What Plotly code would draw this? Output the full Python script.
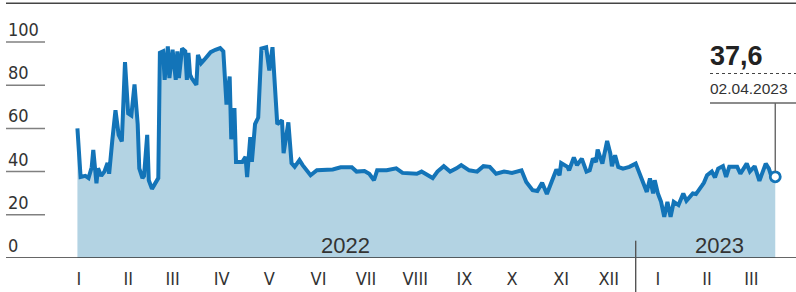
import datetime as dt
import plotly.graph_objects as go

# ---------------- data ----------------
base_date = "2022-01-01"
day_offsets = [
    13, 15, 18, 20, 22, 23, 25, 26, 28, 30, 32, 33, 35, 37, 39, 41, 43, 45, 47, 49,
    51, 52, 54, 55, 57, 58, 60, 62, 64, 65, 67, 68, 70, 71, 73, 75, 76, 77, 79, 81,
    82, 83, 84, 85, 88, 89, 91, 93, 97, 100, 103, 105, 107, 109, 110, 112, 113, 117, 119, 120,
    122, 123, 125, 127, 129, 132, 134, 136, 139, 142, 143, 146, 148, 150, 153, 155, 160, 164, 174, 179,
    186, 189, 194, 197, 200, 202, 208, 214, 218, 227, 230, 237, 240, 244, 248, 252, 255, 260, 265, 269,
    273, 277, 282, 287, 293, 296, 300, 303, 306, 309, 312, 315, 317, 318, 322, 323, 326, 328, 331, 334,
    336, 338, 340, 341, 344, 346, 347, 349, 350, 352, 354, 357, 361, 365, 368, 370, 372, 374, 376, 377,
    379, 381, 383, 385, 387, 389, 392, 395, 397, 401, 403, 407, 408, 410, 413, 415, 417, 420, 422, 424,
    429, 431, 435, 437, 440, 443, 447, 449, 451, 453,
]
values = [
    60, 37.5, 38, 37, 42, 50, 34.6, 41.5, 38, 40, 44, 39, 54.5, 68.4, 57, 54, 90.7, 67, 66, 80.4,
    62, 41.5, 37, 38, 57, 36, 32, 34.6, 37, 95, 95.7, 82.5, 98, 83.3, 96.4, 82.5, 95.7, 83.3, 97, 95.7,
    82.5, 95, 84.9, 83.3, 80.2, 94, 90.2, 91.8, 95.3, 96.4, 97.2, 95.7, 71, 84, 55, 69.4, 44.5, 44.5, 46.8, 37.5,
    56, 44.5, 62, 65, 97, 97.6, 86.8, 97.6, 62, 63.7, 48.5, 62.8, 43.9, 42.2, 45.3, 43, 38.3, 40.6, 41, 42,
    42, 40, 40.3, 39, 36, 40.6, 40.6, 41.5, 39.4, 39, 40, 37, 40, 42.5, 40, 41.5, 43, 40.6, 40, 42.5,
    42.2, 39, 40, 39.4, 40.6, 35.2, 31.4, 31, 34.8, 29.6, 35.2, 41, 38.3, 44, 42.2, 40.6, 46.5, 43, 46, 40,
    40.6, 46, 44.5, 50.2, 43.7, 49.9, 54.2, 48.4, 42.5, 47.6, 42.2, 41.4, 42.2, 43.7, 38.3, 35, 30.6, 36.8, 29.9, 36,
    29.9, 26, 19, 26, 19, 26, 24.5, 29.9, 26.5, 29.9, 29.6, 33.7, 34.8, 38.3, 40, 37.3, 41.4, 42.5, 37.5, 42.2,
    42.2, 39, 43.7, 40, 42.5, 35.7, 43.7, 41.4, 36.8, 37.6,
]
month_ticks = ["2022-01-15", "2022-02-15", "2022-03-15", "2022-04-15", "2022-05-15",
               "2022-06-15", "2022-07-15", "2022-08-15", "2022-09-15", "2022-10-15",
               "2022-11-15", "2022-12-15", "2023-01-15", "2023-02-15", "2023-03-15"]
month_labels = ["I", "II", "III", "IV", "V", "VI", "VII", "VIII", "IX", "X", "XI", "XII",
                "I", "II", "III"]
y_ticks = [0, 20, 40, 60, 80, 100]
years = ["2022", "2023"]
year_label_dates = ["2022-07-02", "2023-02-23"]
year_break = "2023-01-01"
last_value_text = "37,6"
last_date_text = "02.04.2023"

# ---------------- layout constants ----------------
W, H = 796, 292
MB = 34                     # bottom margin -> baseline at pixel 258
PH = H - MB                 # plot height
PX_PER_DAY = 1.586
DAY0_PX = 56.8              # pixel of base_date
PX_PER_UNIT = 2.16

LINE_C = "#1374b8"
FILL_C = "#b3d3e3"
TXT_C = "#333333"
NARROW = "Liberation Sans Narrow, DejaVu Sans Condensed, Arial Narrow, sans-serif"
REG = "Liberation Sans, Arial, sans-serif"

b = dt.datetime.fromisoformat(base_date)
dates = [b + dt.timedelta(days=d) for d in day_offsets]
x_lo = b + dt.timedelta(days=-DAY0_PX / PX_PER_DAY)
x_hi = b + dt.timedelta(days=(W - DAY0_PX) / PX_PER_DAY)
y_hi = PH / PX_PER_UNIT


def py(pix):
    """pixel row -> paper y"""
    return (PH - pix) / PH


fig = go.Figure()
fig.add_trace(go.Scatter(
    x=dates, y=values, mode="lines", fill="tozeroy", fillcolor=FILL_C,
    line=dict(color=LINE_C, width=4.0, shape="linear"), hoverinfo="skip",
))
fig.add_trace(go.Scatter(
    x=[dates[-1]], y=[values[-1]], mode="markers",
    marker=dict(symbol="circle", size=10, color="white", line=dict(color=LINE_C, width=2.8)),
    hoverinfo="skip",
))

shapes = []
# top rule
shapes.append(dict(type="line", xref="paper", yref="paper", x0=6 / W, x1=1, y0=py(3.3), y1=py(3.3),
                   line=dict(color="#444444", width=1.4)))
# short grid lines
for v in y_ticks[1:]:
    shapes.append(dict(type="line", xref="paper", yref="y", x0=6 / W, x1=45 / W, y0=v, y1=v,
                       line=dict(color="#808080", width=1.5)))
# baseline
shapes.append(dict(type="line", xref="paper", yref="y", x0=6 / W, x1=1, y0=0, y1=0,
                   line=dict(color="#333333", width=1.5), layer="above"))
# year separator
shapes.append(dict(type="line", xref="x", yref="paper", x0=year_break, x1=year_break,
                   y0=py(240.7), y1=py(H), line=dict(color="#555555", width=1.4), layer="above"))
# callout lines
shapes.append(dict(type="line", xref="paper", yref="paper", x0=710 / W, x1=1, y0=py(73.5), y1=py(73.5),
                   line=dict(color="#444444", width=1.2, dash="dot")))
shapes.append(dict(type="line", xref="paper", yref="paper", x0=710 / W, x1=1, y0=py(103), y1=py(103),
                   line=dict(color="#666666", width=1.4)))
shapes.append(dict(type="line", xref="x", yref="y", x0=dates[-1], x1=dates[-1],
                   y0=values[-1] + 2.4, y1=(PH - 103) / PX_PER_UNIT,
                   line=dict(color="#666666", width=1.4)))

annotations = []
for v in y_ticks:
    annotations.append(dict(text=str(v), xref="paper", yref="y", x=6 / W, y=v, xanchor="left",
                            yanchor="bottom", yshift=0, showarrow=False,
                            font=dict(family=NARROW, size=18, color=TXT_C)))
for t, d in zip(years, year_label_dates):
    annotations.append(dict(text=t, xref="x", yref="y", x=d, y=(PH - 245) / PX_PER_UNIT,
                            xanchor="center", yanchor="middle", showarrow=False,
                            font=dict(family=REG, size=22, color=TXT_C)))
annotations.append(dict(text="<b>" + last_value_text + "</b>", xref="paper", yref="paper",
                        x=708 / W, y=py(56), xanchor="left", yanchor="middle", showarrow=False,
                        font=dict(family=REG, size=27, color="#222222")))
annotations.append(dict(text=last_date_text, xref="paper", yref="paper",
                        x=708 / W, y=py(89), xanchor="left", yanchor="middle", showarrow=False,
                        font=dict(family=REG, size=15.5, color=TXT_C)))

fig.update_layout(
    width=W, height=H, margin=dict(l=0, r=0, t=0, b=MB),
    paper_bgcolor="white", plot_bgcolor="white", showlegend=False,
    shapes=shapes, annotations=annotations,
    xaxis=dict(type="date", range=[x_lo, x_hi], tickvals=month_ticks, ticktext=month_labels,
               showgrid=False, zeroline=False, showline=False, ticks="",
               tickfont=dict(family=NARROW, size=18, color=TXT_C), ticklabelstandoff=8,
               fixedrange=True),
    yaxis=dict(range=[0, y_hi], showgrid=False, zeroline=False, showline=False,
               showticklabels=False, ticks="", fixedrange=True),
)
fig.write_html(
    "out.html",
    config={"displayModeBar": False},
    post_script="document.body.style.margin='0';document.body.style.overflow='hidden';",
)
